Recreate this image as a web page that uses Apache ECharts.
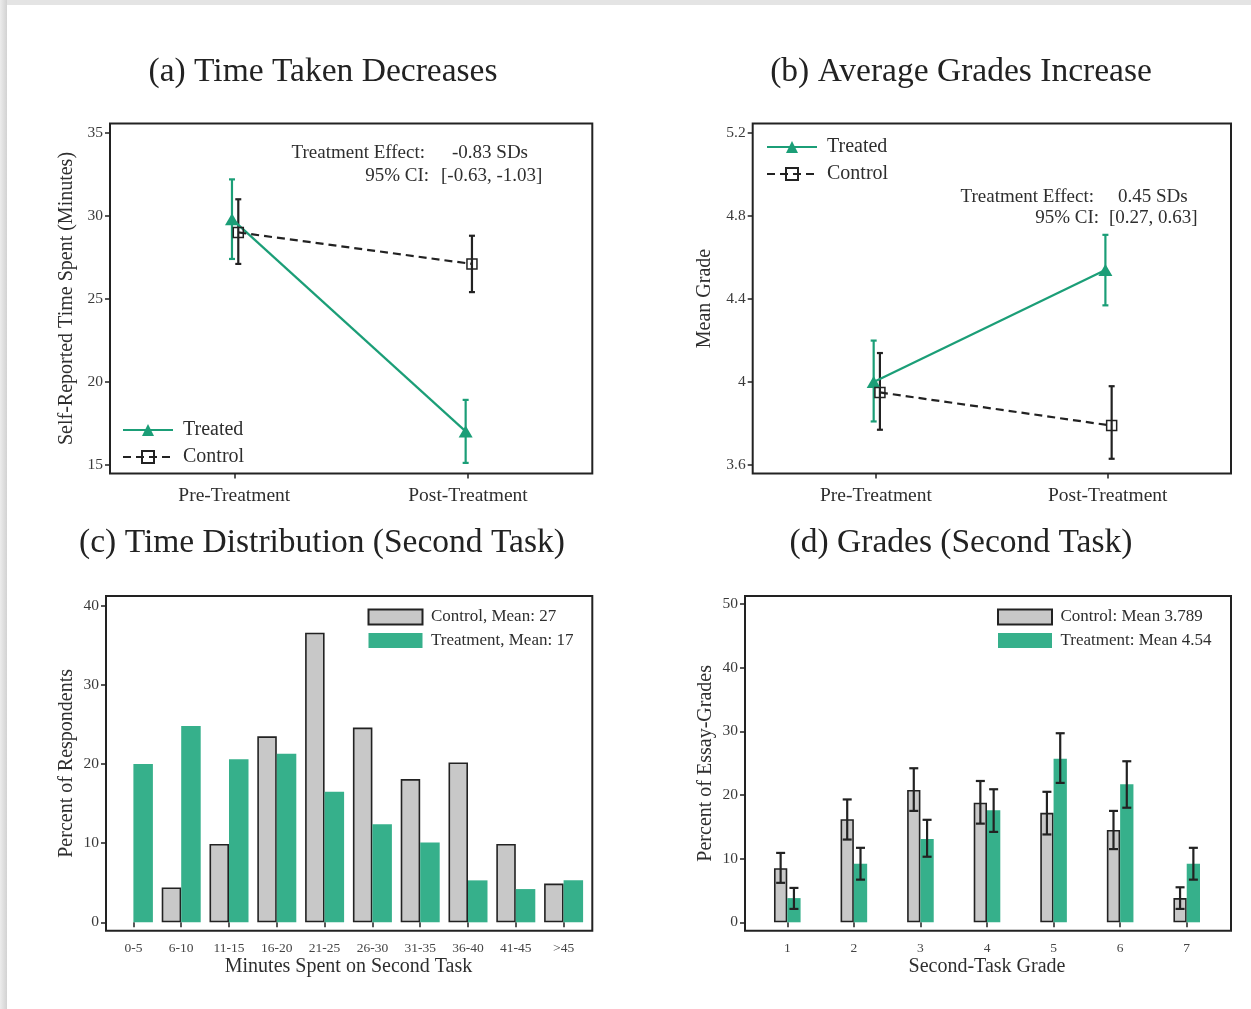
<!DOCTYPE html>
<html>
<head>
<meta charset="utf-8">
<script src="https://cdn.jsdelivr.net/npm/echarts@6/dist/echarts.min.js"></script>
<style>
  html, body { margin: 0; padding: 0; background: #ffffff; }
  .edge-top { position: absolute; left: 0; top: 0; width: 1251px; height: 5px; background: #e4e4e4; }
  .edge-left { position: absolute; left: 0; top: 0; width: 7px; height: 1009px; background: linear-gradient(to right, #ececec, #d2d2d2); }
  #chart { position: absolute; left: 0; top: 0; width: 1251px; height: 1009px; }
</style>
</head>
<body>
<div class="edge-top"></div>
<div class="edge-left"></div>
<div id="chart"></div>
<script>
// ---------------- data ----------------
const periodLabels = ['Pre-Treatment', 'Post-Treatment'];
const periodX = [1, 2];

const yTicksTime = [15, 20, 25, 30, 35];
const timeTreatedMean = [29.8, 17.0];
const timeTreatedLow = [27.4, 15.1];
const timeTreatedHigh = [32.2, 18.9];
const timeControlMean = [29.0, 27.1];
const timeControlLow = [27.1, 25.4];
const timeControlHigh = [31.0, 28.8];

const yTicksGrade = [3.6, 4, 4.4, 4.8, 5.2];
const gradeTreatedMean = [4.0, 4.54];
const gradeTreatedLow = [3.81, 4.37];
const gradeTreatedHigh = [4.2, 4.71];
const gradeControlMean = [3.95, 3.79];
const gradeControlLow = [3.77, 3.63];
const gradeControlHigh = [4.14, 3.98];

const minuteBins = ['0-5', '6-10', '11-15', '16-20', '21-25', '26-30', '31-35', '36-40', '41-45', '>45'];
const minutesControl = [0, 4.4, 9.9, 23.5, 36.6, 24.6, 18.1, 20.2, 9.9, 4.9];
const minutesTreatment = [20.0, 24.8, 20.6, 21.3, 16.5, 12.4, 10.1, 5.3, 4.2, 5.3];
const yTicksMinutes = [0, 10, 20, 30, 40];

const gradeBins = ['1', '2', '3', '4', '5', '6', '7'];
const essayControl = [8.5, 16.2, 20.8, 18.8, 17.2, 14.5, 3.8];
const essayControlLow = [6.2, 13.0, 17.5, 15.5, 13.8, 11.5, 2.1];
const essayControlHigh = [10.9, 19.3, 24.2, 22.2, 20.5, 17.5, 5.5];
const essayTreatment = [3.8, 9.2, 13.1, 17.6, 25.7, 21.7, 9.2];
const essayTreatmentLow = [2.1, 6.7, 10.3, 14.2, 21.9, 18.0, 6.7];
const essayTreatmentHigh = [5.4, 11.7, 16.1, 20.9, 29.7, 25.3, 11.7];
const yTicksEssay = [0, 10, 20, 30, 40, 50];

const lineLegend = ['Treated', 'Control'];
const minutesLegend = ['Control, Mean: 27', 'Treatment, Mean: 17'];
const essayLegend = ['Control: Mean 3.789', 'Treatment: Mean 4.54'];

const panelTitles = ['(a) Time Taken Decreases', '(b) Average Grades Increase',
                     '(c) Time Distribution (Second Task)', '(d) Grades (Second Task)'];
const axisNames = ['Self-Reported Time Spent (Minutes)', 'Mean Grade',
                   'Percent of Respondents', 'Percent of Essay-Grades',
                   'Minutes Spent on Second Task', 'Second-Task Grade'];
const effectA = ['Treatment Effect:', '-0.83 SDs', '95% CI:', '[-0.63, -1.03]'];
const effectB = ['Treatment Effect:', '0.45 SDs', '95% CI:', '[0.27, 0.63]'];

// ---------------- style ----------------
const SERIF = "'Liberation Serif', 'Times New Roman', Times, serif";
const GREEN = '#1b9e77';
const BAR_GREEN = '#36b08b';
const GRAY = '#c8c8c8';
const INK = '#222222';
const TXT = '#2e2e2e';
const TREAT_DODGE = -0.01;
const CTRL_DODGE = 0.017;
const BAR_W_C = 19.5;
const BAR_W_D = 13.3;

const chart = echarts.init(document.getElementById('chart'), null, { renderer: 'canvas' });

function errBarXY(color, cap) {
  return function (params, api) {
    const x = api.value(0);
    const top = api.coord([x, api.value(2)]);
    const bot = api.coord([x, api.value(1)]);
    const st = { stroke: color, lineWidth: 2.2 };
    return { type: 'group', children: [
      { type: 'line', shape: { x1: top[0], y1: top[1], x2: bot[0], y2: bot[1] }, style: st },
      { type: 'line', shape: { x1: top[0] - cap, y1: top[1], x2: top[0] + cap, y2: top[1] }, style: st },
      { type: 'line', shape: { x1: bot[0] - cap, y1: bot[1], x2: bot[0] + cap, y2: bot[1] }, style: st }
    ]};
  };
}
function errBarCat(color, cap, shift) {
  return function (params, api) {
    const i = api.value(0);
    const top = api.coord([i, api.value(2)]);
    const bot = api.coord([i, api.value(1)]);
    const x = top[0] + shift;
    const st = { stroke: color, lineWidth: 2.2 };
    return { type: 'group', children: [
      { type: 'line', shape: { x1: x, y1: top[1], x2: x, y2: bot[1] }, style: st },
      { type: 'line', shape: { x1: x - cap, y1: top[1], x2: x + cap, y2: top[1] }, style: st },
      { type: 'line', shape: { x1: x - cap, y1: bot[1], x2: x + cap, y2: bot[1] }, style: st }
    ]};
  };
}

const tickLine = { show: true, length: 5, inside: false, lineStyle: { color: INK, width: 1.5 } };
const tickFont = { fontFamily: SERIF, fontSize: 15.5, color: '#3a3a3a' };
const nameFont = { fontFamily: SERIF, fontSize: 20, color: TXT };

function valueY(gridIndex, min, max, ticks, name, gap, offset) {
  return {
    type: 'value', gridIndex, min, max, offset: offset || 0,
    name, nameLocation: 'middle', nameRotate: 90, nameGap: gap, nameTextStyle: nameFont,
    axisLine: { show: false }, splitLine: { show: false },
    axisTick: Object.assign({ customValues: ticks }, tickLine),
    axisLabel: Object.assign({ show: true, customValues: ticks, margin: 7 }, tickFont)
  };
}
function periodAxis(gridIndex) {
  return {
    type: 'value', gridIndex, min: 0.468, max: 2.532,
    axisLine: { show: false }, splitLine: { show: false },
    axisTick: Object.assign({ customValues: periodX }, tickLine),
    axisLabel: { show: true, customValues: periodX, margin: 12, fontFamily: SERIF, fontSize: 19.5, color: TXT,
                 formatter: v => periodLabels[periodX.indexOf(Math.round(v))] }
  };
}
function catAxis(gridIndex, data, name) {
  return {
    type: 'category', gridIndex, data,
    name, nameLocation: 'middle', nameGap: 24, nameTextStyle: nameFont,
    axisLine: { show: false }, splitLine: { show: false },
    axisTick: Object.assign({ alignWithLabel: true, interval: 0 }, tickLine),
    axisLabel: { show: true, interval: 0, margin: 11, fontFamily: SERIF, fontSize: 13.5, color: '#444' }
  };
}

function pts(xs, ys, d) { return xs.map((x, i) => [x + d, ys[i]]); }
function ci(xs, lo, hi, d) { return xs.map((x, i) => [x + d, lo[i], hi[i]]); }
function ciCat(lo, hi) { return lo.map((v, i) => [i, v, hi[i]]); }
function barData(vals) { return vals.map(v => v === 0 ? { value: 0, itemStyle: { borderWidth: 0 } } : v); }

function treatedLine(name, xi, yi, means) {
  return { type: 'line', name, xAxisIndex: xi, yAxisIndex: yi, z: 4,
    data: pts(periodX, means, TREAT_DODGE), symbol: 'triangle', symbolSize: [14, 12],
    lineStyle: { color: GREEN, width: 2.2 }, itemStyle: { color: GREEN }, animation: false };
}
function controlLine(name, xi, yi, means) {
  return { type: 'line', name, xAxisIndex: xi, yAxisIndex: yi, z: 4,
    data: pts(periodX, means, CTRL_DODGE), symbol: 'rect', symbolSize: 10,
    lineStyle: { color: INK, width: 2.2, type: [8, 5] },
    itemStyle: { color: 'rgba(255,255,255,0)', borderColor: INK, borderWidth: 1.5 }, animation: false };
}

const titleBase = { textAlign: 'center', padding: 0,
  textStyle: { fontFamily: SERIF, fontSize: 33.5, fontWeight: 'normal', lineHeight: 40, color: INK } };
const lineLegendBase = { orient: 'vertical', data: lineLegend, itemWidth: 50, itemHeight: 15, itemGap: 7, padding: 0,
  textStyle: { fontFamily: SERIF, fontSize: 20, lineHeight: 20, color: TXT, padding: [0, 0, 0, 5] }, selectedMode: false };
const barLegendBase = { orient: 'vertical', icon: 'rect', itemWidth: 54, itemHeight: 15, itemGap: 5.5, padding: 0,
  textStyle: { fontFamily: SERIF, fontSize: 17, lineHeight: 18, color: TXT, padding: [0, 0, 0, 3.5] }, selectedMode: false };

function label(x, y, text, align) {
  return { type: 'text', x, y, silent: true,
    style: { text, fontFamily: SERIF, fontSize: 19, fill: TXT, align, verticalAlign: 'middle' } };
}

const option = {
  animation: false,
  backgroundColor: 'transparent',
  title: [
    Object.assign({ text: panelTitles[0], left: 323, top: 52 }, titleBase),
    Object.assign({ text: panelTitles[1], left: 961, top: 52 }, titleBase),
    Object.assign({ text: panelTitles[2], left: 322, top: 523 }, titleBase),
    Object.assign({ text: panelTitles[3], left: 961, top: 523 }, titleBase)
  ],
  legend: [
    Object.assign({ left: 122, top: 420 }, lineLegendBase),
    Object.assign({ left: 766, top: 137 }, lineLegendBase),
    Object.assign({ left: 367.5, top: 608, data: minutesLegend }, barLegendBase),
    Object.assign({ left: 997, top: 608, data: essayLegend }, barLegendBase)
  ],
  grid: [
    { left: 110, top: 123.5, width: 482.3, height: 350, show: true, borderColor: INK, borderWidth: 2, backgroundColor: 'transparent', containLabel: false, outerBoundsMode: 'none' },
    { left: 752.7, top: 123.5, width: 478.3, height: 350, show: true, borderColor: INK, borderWidth: 2, backgroundColor: 'transparent', containLabel: false, outerBoundsMode: 'none' },
    { left: 109.5, top: 596, width: 478, height: 334.7, show: false, containLabel: false, outerBoundsMode: 'none' },
    { left: 754, top: 596, width: 466, height: 334.7, show: false, containLabel: false, outerBoundsMode: 'none' }
  ],
  xAxis: [
    periodAxis(0),
    periodAxis(1),
    catAxis(2, minuteBins, axisNames[4]),
    catAxis(3, gradeBins, axisNames[5])
  ],
  yAxis: [
    valueY(0, 14.46, 35.57, yTicksTime, axisNames[0], 33),
    valueY(1, 3.559, 5.247, yTicksGrade, axisNames[1], 38),
    valueY(2, -1.06, 41.23, yTicksMinutes, axisNames[2], 29, 3.5),
    valueY(3, -1.32, 51.26, yTicksEssay, axisNames[3], 29, 9)
  ],
  series: [
    // panel a
    { type: 'custom', name: 'a-treated-ci', xAxisIndex: 0, yAxisIndex: 0, z: 3,
      data: ci(periodX, timeTreatedLow, timeTreatedHigh, TREAT_DODGE), encode: { x: 0, y: [1, 2] },
      renderItem: errBarXY(GREEN, 3) },
    { type: 'custom', name: 'a-control-ci', xAxisIndex: 0, yAxisIndex: 0, z: 3,
      data: ci(periodX, timeControlLow, timeControlHigh, CTRL_DODGE), encode: { x: 0, y: [1, 2] },
      renderItem: errBarXY(INK, 3) },
    treatedLine(lineLegend[0], 0, 0, timeTreatedMean),
    controlLine(lineLegend[1], 0, 0, timeControlMean),
    // panel b
    { type: 'custom', name: 'b-treated-ci', xAxisIndex: 1, yAxisIndex: 1, z: 3,
      data: ci(periodX, gradeTreatedLow, gradeTreatedHigh, TREAT_DODGE), encode: { x: 0, y: [1, 2] },
      renderItem: errBarXY(GREEN, 3) },
    { type: 'custom', name: 'b-control-ci', xAxisIndex: 1, yAxisIndex: 1, z: 3,
      data: ci(periodX, gradeControlLow, gradeControlHigh, CTRL_DODGE), encode: { x: 0, y: [1, 2] },
      renderItem: errBarXY(INK, 3) },
    treatedLine(lineLegend[0], 1, 1, gradeTreatedMean),
    controlLine(lineLegend[1], 1, 1, gradeControlMean),
    // panel c
    { type: 'bar', name: minutesLegend[0], xAxisIndex: 2, yAxisIndex: 2, barWidth: BAR_W_C, barGap: '0%',
      data: barData(minutesControl), itemStyle: { color: GRAY, borderColor: INK, borderWidth: 1.6 } },
    { type: 'bar', name: minutesLegend[1], xAxisIndex: 2, yAxisIndex: 2, barWidth: BAR_W_C, barGap: '0%',
      data: minutesTreatment, itemStyle: { color: BAR_GREEN } },
    // panel d
    { type: 'bar', name: essayLegend[0], xAxisIndex: 3, yAxisIndex: 3, barWidth: BAR_W_D, barGap: '0%',
      data: essayControl, itemStyle: { color: GRAY, borderColor: INK, borderWidth: 1.6 } },
    { type: 'bar', name: essayLegend[1], xAxisIndex: 3, yAxisIndex: 3, barWidth: BAR_W_D, barGap: '0%',
      data: essayTreatment, itemStyle: { color: BAR_GREEN } },
    { type: 'custom', name: 'd-control-ci', xAxisIndex: 3, yAxisIndex: 3, z: 5,
      data: ciCat(essayControlLow, essayControlHigh), encode: { x: 0, y: [1, 2] },
      renderItem: errBarCat(INK, 4.5, -BAR_W_D / 2) },
    { type: 'custom', name: 'd-treatment-ci', xAxisIndex: 3, yAxisIndex: 3, z: 5,
      data: ciCat(essayTreatmentLow, essayTreatmentHigh), encode: { x: 0, y: [1, 2] },
      renderItem: errBarCat(INK, 4.5, BAR_W_D / 2) }
  ],
  graphic: [
    { type: 'rect', silent: true, shape: { x: 106, y: 596, width: 486.3, height: 334.7 },
      style: { fill: 'none', stroke: INK, lineWidth: 2 } },
    { type: 'rect', silent: true, shape: { x: 745, y: 596, width: 486, height: 334.7 },
      style: { fill: 'none', stroke: INK, lineWidth: 2 } },
    label(425, 153, effectA[0], 'right'),
    label(452, 153, effectA[1], 'left'),
    label(429, 176, effectA[2], 'right'),
    label(441, 176, effectA[3], 'left'),
    label(1094, 197, effectB[0], 'right'),
    label(1118, 197, effectB[1], 'left'),
    label(1099, 218, effectB[2], 'right'),
    label(1109, 218, effectB[3], 'left')
  ]
};
chart.setOption(option);
</script>
</body>
</html>
